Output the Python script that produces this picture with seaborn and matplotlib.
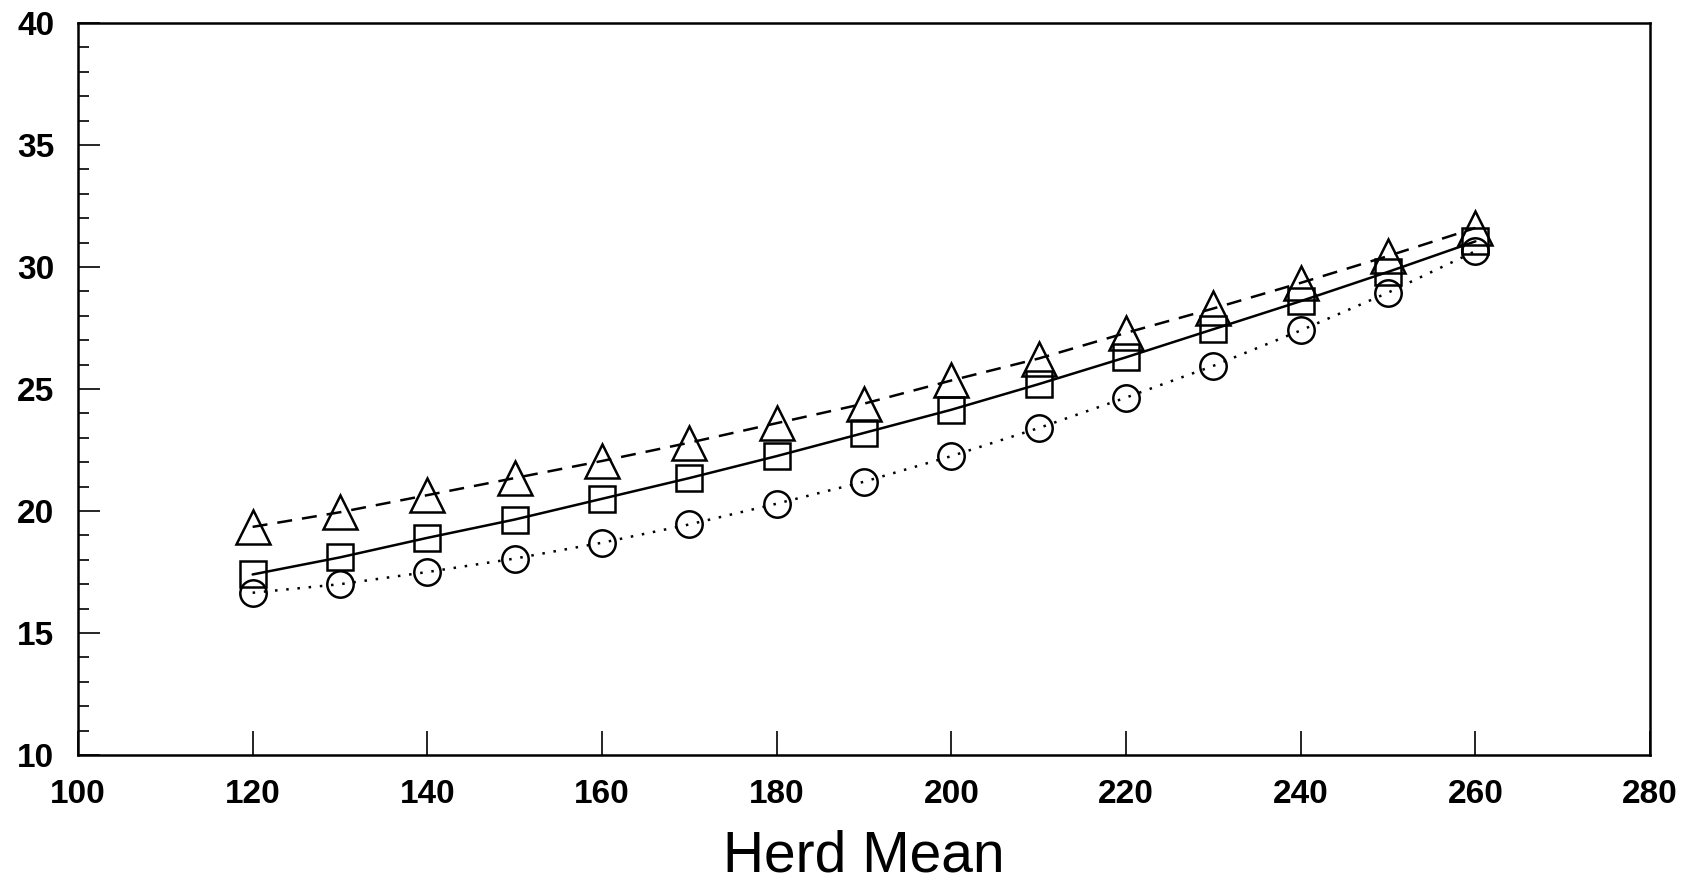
import numpy as np
import pandas as pd
import matplotlib
matplotlib.use('Agg')
import matplotlib.pyplot as plt
from matplotlib.ticker import MultipleLocator
import seaborn as sns

# ---- data ----
herd_mean = [120, 130, 140, 150, 160, 170, 180, 190, 200, 210, 220, 230, 240, 250, 260]
triangle_vals = [19.35, 19.95, 20.65, 21.35, 22.05, 22.8, 23.6, 24.4, 25.35, 26.25,
                 27.3, 28.3, 29.35, 30.45, 31.6]
square_vals = [17.4, 18.1, 18.9, 19.65, 20.5, 21.35, 22.25, 23.2, 24.15, 25.2,
               26.3, 27.45, 28.6, 29.8, 31.05]
circle_vals = [16.65, 17.0, 17.5, 18.05, 18.7, 19.45, 20.3, 21.2, 22.25, 23.4,
               24.65, 25.95, 27.4, 28.95, 30.65]

x_ticks = [100, 120, 140, 160, 180, 200, 220, 240, 260, 280]
y_ticks = [10, 15, 20, 25, 30, 35, 40]

sns.set_style('ticks')
plt.rcParams['font.family'] = ['Liberation Sans', 'DejaVu Sans']
plt.rcParams['text.color'] = 'black'
plt.rcParams['xtick.labelcolor'] = 'black'
plt.rcParams['ytick.labelcolor'] = 'black'
plt.rcParams['axes.labelcolor'] = 'black'

fig = plt.figure(figsize=(16.91, 8.81), dpi=100)
ax = fig.add_axes([0.0461, 0.1430, 0.9297, 0.8309])

series = [
    ('triangle', triangle_vals, '^', (6, 4), 24),
    ('square', square_vals, 's', None, 19),
    ('circle', circle_vals, 'o', (1, 3.5), 19),
]
for name, vals, mk, dash, ms in series:
    df = pd.DataFrame({'herd': herd_mean, 'val': vals})
    sns.lineplot(data=df, x='herd', y='val', ax=ax, color='black', lw=1.8,
                 marker=mk, markersize=ms, markerfacecolor='none',
                 markeredgecolor='black', markeredgewidth=1.8, legend=False)
    if dash:
        ax.lines[-1].set_dashes(dash)

ax.set_xlim(100, 280)
ax.set_ylim(10, 40)
ax.set_xticks(x_ticks)
ax.set_yticks(y_ticks)
ax.yaxis.set_minor_locator(MultipleLocator(1))

for side in ['top', 'right', 'bottom', 'left']:
    ax.spines[side].set_visible(True)
    ax.spines[side].set_linewidth(1.8)
    ax.spines[side].set_color('black')

ax.tick_params(axis='both', which='both', direction='in', color='black', width=1.2)
ax.tick_params(axis='y', which='major', length=16, pad=17, labelsize=24)
ax.tick_params(axis='y', which='minor', length=8)
ax.tick_params(axis='x', which='major', length=17, pad=17, labelsize=24)
for lab in ax.get_xticklabels() + ax.get_yticklabels():
    lab.set_fontweight('bold')

ax.set_xlabel('Herd Mean', fontsize=41, labelpad=14)
ax.set_ylabel('')

fig.savefig('out.png', dpi=100)
